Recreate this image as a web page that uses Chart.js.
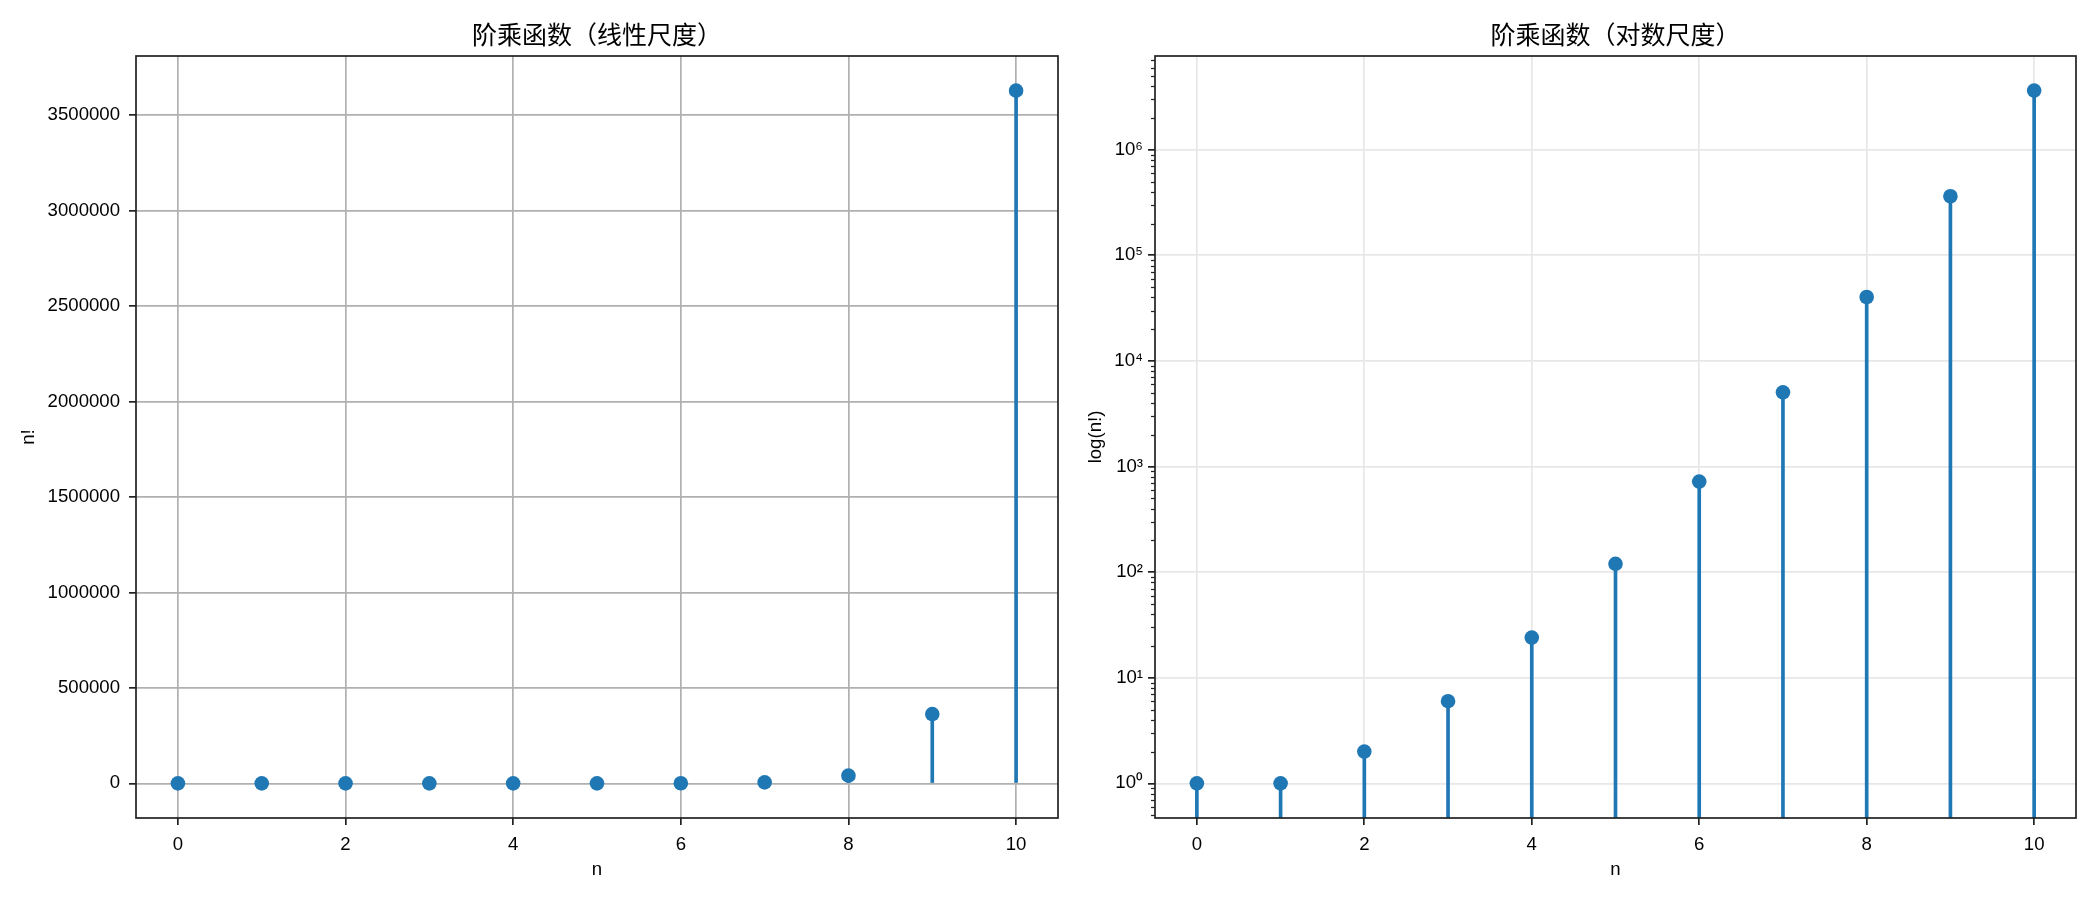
<!DOCTYPE html>
<html><head><meta charset="utf-8">
<script src="https://cdn.jsdelivr.net/npm/chart.js@4.4.1/dist/chart.umd.min.js"></script>
<style>
  html, body { margin: 0; padding: 0; background: #fff; }
  #wrap { position: relative; width: 2100px; height: 900px; background: #fff; }
  canvas { position: absolute; top: 0; }
</style></head>
<body>
<div id="wrap">
  <canvas id="linChart" width="1060" height="900" style="left:0"></canvas>
  <canvas id="logChart" width="1040" height="900" style="left:1060px"></canvas>
</div>
<script>
// 数据：n 与 n!
const nValues = [0, 1, 2, 3, 4, 5, 6, 7, 8, 9, 10];
const factValues = [1, 1, 2, 6, 24, 120, 720, 5040, 40320, 362880, 3628800];

// 刻度
const xTickValues = [0, 2, 4, 6, 8, 10];
const linTickValues = [0, 500000, 1000000, 1500000, 2000000, 2500000, 3000000, 3500000];
const logTickValues = [1, 10, 100, 1000, 10000, 100000, 1000000];
const SUP = { '0': '⁰', '1': '¹', '2': '²', '3': '³', '4': '⁴', '5': '⁵', '6': '⁶', '-': '⁻' };

// 对数轴次刻度 (2..9 × 10^k)
const logMinorTicks = [];
for (let k = -1; k <= 6; k++) {
  for (let m = 2; m <= 9; m++) logMinorTicks.push(m * Math.pow(10, k));
}

const BLUE = '#1f77b4';
const CJK = "'Noto Sans CJK SC', sans-serif";
const LATIN = "'Liberation Sans', Arial, sans-serif";
Chart.defaults.font.family = LATIN;
Chart.defaults.color = '#000';

const points = nValues.map((n, i) => ({ x: n, y: factValues[i] }));

// 四周边框 + 对数轴次刻度
const framePlugin = {
  id: 'frame',
  afterDraw(chart) {
    const { ctx, chartArea: a } = chart;
    ctx.save();
    const minor = chart.options.plugins.frame && chart.options.plugins.frame.minor;
    if (minor) {
      const y = chart.scales.y;
      ctx.strokeStyle = '#222';
      ctx.lineWidth = 1.25;
      minor.forEach((v) => {
        if (v < y.min || v > y.max) return;
        const py = Math.round(y.getPixelForValue(v)) + 0.5;
        ctx.beginPath();
        ctx.moveTo(a.left - 4, py);
        ctx.lineTo(a.left, py);
        ctx.stroke();
      });
    }
    ctx.strokeStyle = '#222';
    ctx.lineWidth = 1.7;
    ctx.strokeRect(a.left, a.top, a.right - a.left, a.bottom - a.top);
    ctx.restore();
  },
};

function fixTicks(values) {
  return (scale) => { scale.ticks = values.map((v) => ({ value: v })); };
}

function makeChart(id, { title, yTitle, yType, yMin, yMax, yTicks, yFmt, yPad, gridColor, yWidth, padRight, yTitlePad, minor }) {
  return new Chart(document.getElementById(id), {
    type: 'bar',
    data: {
      datasets: [
        { type: 'scatter', data: points, backgroundColor: BLUE, borderWidth: 0, pointRadius: 7.3, order: 0 },
        { type: 'bar', data: points, backgroundColor: BLUE, borderWidth: 0, barThickness: 3, grouped: false, order: 1 },
      ],
    },
    plugins: [framePlugin],
    options: {
      responsive: false, animation: false,
      layout: { autoPadding: false, padding: { left: 0, right: padRight, top: 0, bottom: 0 } },
      plugins: {
        legend: { display: false },
        tooltip: { enabled: false },
        title: {
          display: true, text: title, fullSize: false, color: '#000',
          font: { family: CJK, size: 25, weight: 'normal' }, padding: { top: 19, bottom: 7 },
        },
        frame: { minor },
      },
      scales: {
        x: {
          type: 'linear', min: -0.5, max: 10.5, offset: false,
          afterBuildTicks: fixTicks(xTickValues),
          afterFit: (s) => { s.height = 82; },
          border: { display: false },
          grid: { offset: false, color: gridColor, lineWidth: 1.7, tickColor: '#222', tickWidth: 1.7, tickLength: 7 },
          ticks: { font: { size: 18.6 }, padding: 9, maxRotation: 0, callback: (v) => String(v) },
          title: { display: true, text: 'n', font: { size: 18.6 }, padding: { top: 0, bottom: 19 } },
        },
        y: {
          type: yType, min: yMin, max: yMax,
          afterBuildTicks: fixTicks(yTicks),
          afterFit: (s) => { s.width = yWidth; },
          border: { display: false },
          grid: { color: gridColor, lineWidth: 1.7, tickColor: '#222', tickWidth: 1.7, tickLength: 7 },
          ticks: { font: { size: 18.6 }, padding: yPad, callback: yFmt },
          title: { display: true, text: yTitle, font: { size: 18.6 }, padding: { top: yTitlePad, bottom: 0 } },
        },
      },
    },
  });
}

makeChart('linChart', {
  title: '阶乘函数（线性尺度）', yTitle: 'n!', yType: 'linear',
  yMin: -181440, yMax: 3810240, yTicks: linTickValues,
  yFmt: (v) => String(v), yPad: 9, gridColor: '#b0b0b0',
  yWidth: 136, padRight: 2, yTitlePad: 18, minor: null,
});

makeChart('logChart', {
  title: '阶乘函数（对数尺度）', yTitle: 'log(n!)', yType: 'logarithmic',
  yMin: 0.47, yMax: 7.72e6, yTicks: logTickValues,
  yFmt: (v) => '10' + String(Math.round(Math.log10(v))).split('').map((c) => SUP[c]).join(''),
  yPad: 5, gridColor: '#e7e7e7',
  yWidth: 95, padRight: 24, yTitlePad: 25, minor: logMinorTicks,
});
</script>
</body></html>
